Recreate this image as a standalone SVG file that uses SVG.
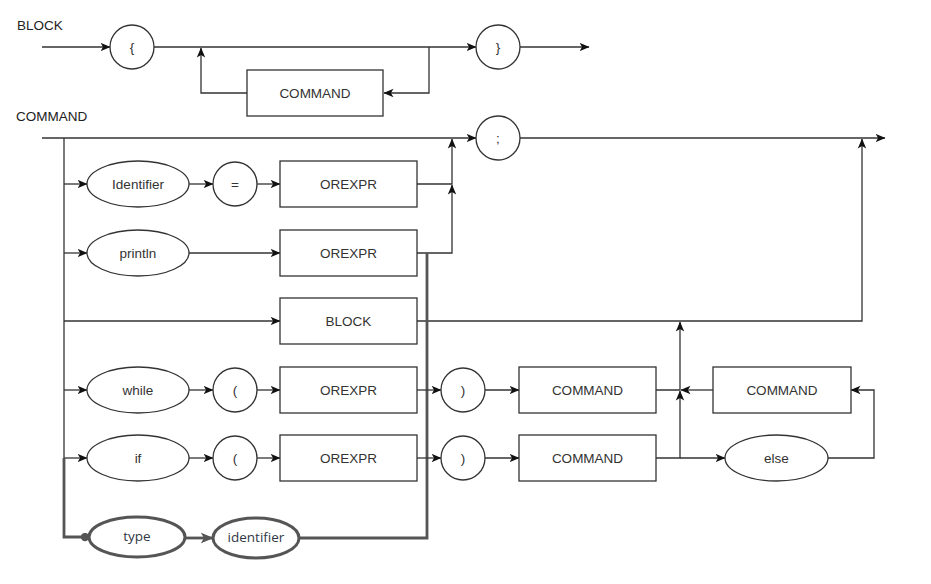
<svg xmlns="http://www.w3.org/2000/svg" width="931" height="584" viewBox="0 0 931 584">
<defs>
<marker id="arr" viewBox="0 0 10 10" refX="9.5" refY="5" markerWidth="10" markerHeight="10" markerUnits="userSpaceOnUse" orient="auto">
<path d="M0,0.8 L10,5 L0,9.2 L2.6,5 z" fill="#111"/>
</marker>
<marker id="arrThick" viewBox="0 0 10 10" refX="9.5" refY="5" markerWidth="13" markerHeight="13" markerUnits="userSpaceOnUse" orient="auto">
<path d="M0,0.8 L10,5 L0,9.2 L2.6,5 z" fill="#555"/>
</marker>
<marker id="dot" viewBox="0 0 10 10" refX="5" refY="5" markerWidth="9" markerHeight="9" markerUnits="userSpaceOnUse" orient="auto">
<circle cx="5" cy="5" r="4.6" fill="#555"/>
</marker>
<style>
.s{fill:#fff;stroke:#333;stroke-width:1.3}
.k{fill:#fff;stroke:#555;stroke-width:3}
.t{font-family:"Liberation Sans",Arial,sans-serif;font-size:13.5px;fill:#333;text-anchor:middle;dominant-baseline:central}
.lbl{font-family:"Liberation Sans",Arial,sans-serif;font-size:13.5px;fill:#222}
.tk{font-family:"Open Sans","Noto Sans",sans-serif;font-size:13.5px;font-weight:500;fill:#2f3845;text-anchor:middle;dominant-baseline:central}
.e{fill:none;stroke:#333;stroke-width:1.3;marker-end:url(#arr)}
.n{fill:none;stroke:#333;stroke-width:1.3}
.th{fill:none;stroke:#555;stroke-width:2.8}
</style>
</defs>
<rect width="931" height="584" fill="#fff"/>
<text class="lbl" x="17" y="30">BLOCK</text>
<text class="lbl" x="16" y="121">COMMAND</text>

<g id="connectors">
<path class="e" d="M42 47 H110"/>
<path class="e" d="M154 47 H476"/>
<path class="e" d="M520 47 H589"/>
<path class="e" d="M247 93 H201 V48"/>
<path class="e" d="M429 47 V93 H384"/>
<path class="e" d="M42 138 H476"/>
<path class="e" d="M520 138 H885"/>
<path class="n" d="M64 138 V458"/>
<path class="e" d="M64 184 H87"/>
<path class="e" d="M64 253 H87"/>
<path class="e" d="M64 321 H280"/>
<path class="e" d="M64 390 H87"/>
<path class="e" d="M64 458 H87"/>
<path class="e" d="M189 184 H213"/>
<path class="e" d="M257 184 H280"/>
<path class="e" d="M417 184 H452 V139"/>
<path class="e" d="M189 253 H280"/>
<path class="e" d="M417 253 H452 V185"/>
<path class="e" d="M417 321 H862 V139"/>
<path class="th" d="M64 458 V537 H85" style="marker-end:url(#dot)"/>
<path class="th" d="M186 538 H213" style="marker-end:url(#arrThick)"/>
<path class="th" d="M299 538 H427 V253"/>
<path class="e" d="M189 390 H213"/>
<path class="e" d="M257 390 H280"/>
<path class="e" d="M417 390 H441"/>
<path class="e" d="M485 390 H519"/>
<path class="e" d="M656 390 H680 V322"/>
<path class="e" d="M189 458 H213"/>
<path class="e" d="M257 458 H280"/>
<path class="e" d="M417 458 H441"/>
<path class="e" d="M485 458 H519"/>
<path class="e" d="M656 458 H680 V391"/>
<path class="e" d="M680 458 H725"/>
<path class="e" d="M828 458 H874 V390 H851"/>
<path class="e" d="M713 390 H681"/>
</g>

<g id="brace_open"><circle class="s" cx="132" cy="47" r="22"/><text class="t" x="132" y="47">{</text></g>
<g id="block_command"><rect class="s" x="247" y="70" width="136" height="46"/><text class="t" x="315" y="93">COMMAND</text></g>
<g id="brace_close"><circle class="s" cx="498" cy="47" r="22"/><text class="t" x="498" y="47">}</text></g>
<g id="semicolon"><circle class="s" cx="498" cy="138" r="22"/><text class="t" x="498" y="138">;</text></g>

<g id="identifier"><ellipse class="s" cx="138" cy="184" rx="51" ry="23"/><text class="t" x="138" y="184">Identifier</text></g>
<g id="equals"><circle class="s" cx="235" cy="184" r="22"/><text class="t" x="235" y="184">=</text></g>
<g id="orexpr_assign"><rect class="s" x="280" y="161" width="137" height="46"/><text class="t" x="348.5" y="184">OREXPR</text></g>

<g id="println"><ellipse class="s" cx="138" cy="253" rx="51" ry="23"/><text class="t" x="138" y="253">println</text></g>
<g id="orexpr_println"><rect class="s" x="280" y="230" width="137" height="46"/><text class="t" x="348.5" y="253">OREXPR</text></g>

<g id="block"><rect class="s" x="280" y="298" width="137" height="46"/><text class="t" x="348.5" y="321">BLOCK</text></g>

<g id="while"><ellipse class="s" cx="138" cy="390" rx="51" ry="23"/><text class="t" x="138" y="390">while</text></g>
<g id="while_lparen"><circle class="s" cx="235" cy="390" r="22"/><text class="t" x="235" y="390">(</text></g>
<g id="orexpr_while"><rect class="s" x="280" y="367" width="137" height="46"/><text class="t" x="348.5" y="390">OREXPR</text></g>
<g id="while_rparen"><circle class="s" cx="463" cy="390" r="22"/><text class="t" x="463" y="390">)</text></g>
<g id="command_while"><rect class="s" x="519" y="367" width="137" height="46"/><text class="t" x="587.5" y="390">COMMAND</text></g>
<g id="command_else"><rect class="s" x="713" y="367" width="138" height="46"/><text class="t" x="782" y="390">COMMAND</text></g>

<g id="if"><ellipse class="s" cx="138" cy="458" rx="51" ry="23"/><text class="t" x="138" y="458">if</text></g>
<g id="if_lparen"><circle class="s" cx="235" cy="458" r="22"/><text class="t" x="235" y="458">(</text></g>
<g id="orexpr_if"><rect class="s" x="280" y="435" width="137" height="46"/><text class="t" x="348.5" y="458">OREXPR</text></g>
<g id="if_rparen"><circle class="s" cx="463" cy="458" r="22"/><text class="t" x="463" y="458">)</text></g>
<g id="command_if"><rect class="s" x="519" y="435" width="137" height="46"/><text class="t" x="587.5" y="458">COMMAND</text></g>
<g id="else"><ellipse class="s" cx="776.5" cy="458" rx="51.5" ry="23"/><text class="t" x="776.5" y="458">else</text></g>

<g id="type"><ellipse class="k" cx="137" cy="537" rx="48" ry="20"/><text class="tk" x="137" y="536">type</text></g>
<g id="identifier_decl"><ellipse class="k" cx="256" cy="538" rx="43" ry="20"/><text class="tk" x="256" y="537">identifier</text></g>
</svg>
